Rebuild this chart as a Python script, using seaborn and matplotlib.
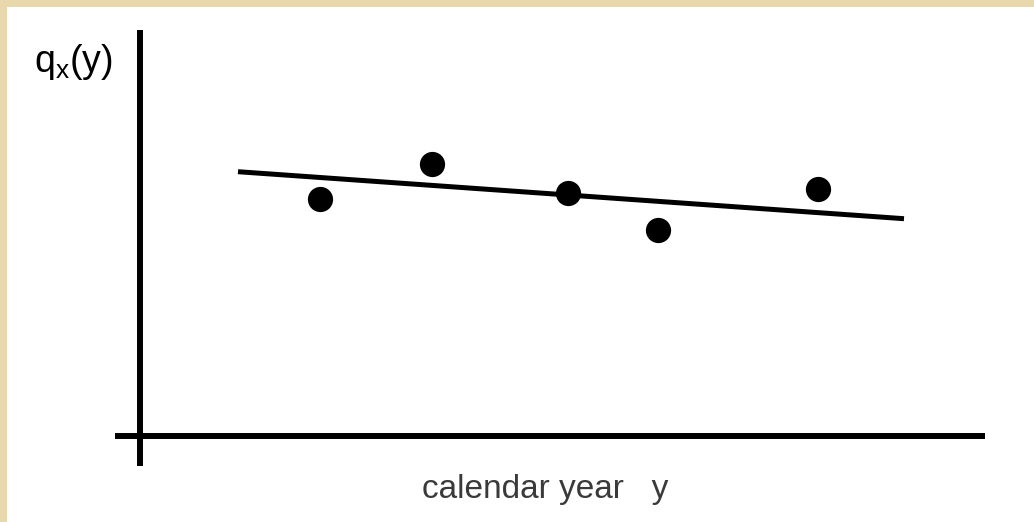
import numpy as np
import pandas as pd
import seaborn as sns
import matplotlib.pyplot as plt

sns.set_style('white')
plt.rcParams['font.family'] = ['Liberation Sans', 'DejaVu Sans']

# observed mortality rates q_x(y) by calendar year
years = [1959.0, 1964.6, 1971.4, 1975.9, 1983.9]
q_obs = [2.37, 2.72, 2.43, 2.06, 2.47]

# fitted trend line
trend_years = [1954.9, 1988.2]
trend_q = [2.64, 2.17]

obs = pd.DataFrame({'year': years, 'q': q_obs})
trend = pd.DataFrame({'year': trend_years, 'q': trend_q})


def mortality_trend():
    fig = plt.figure(figsize=(10.34, 5.22), dpi=100)
    fig.patch.set_facecolor('#e9d8ab')
    ax = fig.add_axes([7 / 1034, 0, 1027 / 1034, 515 / 522])
    ax.set_facecolor('white')

    sns.lineplot(x='year', y='q', data=trend, color='black', linewidth=3.6,
                 solid_capstyle='butt', ax=ax)
    sns.scatterplot(x='year', y='q', data=obs, color='black', s=330,
                    edgecolor='black', linewidth=0, ax=ax)

    ax.set_xlim(1943.35, 1994.7)
    ax.set_ylim(-0.863, 4.287)

    # axes drawn as crossing lines through the origin
    for side in ['top', 'right']:
        ax.spines[side].set_visible(False)
    ax.spines['left'].set_position(('data', 1950))
    ax.spines['left'].set_bounds(-0.303, 4.057)
    ax.spines['bottom'].set_position(('data', 0))
    ax.spines['bottom'].set_bounds(1948.75, 1992.25)
    for side in ['left', 'bottom']:
        ax.spines[side].set_linewidth(4.3)
        ax.spines[side].set_color('black')
        ax.spines[side].set_capstyle('butt')

    ax.set_xticks([])
    ax.set_yticks([])
    ax.set_xlabel('')
    ax.set_ylabel('')

    ax.text(0.071, 0.882, r'q$_\mathregular{x}$(y)', transform=fig.transFigure,
            fontsize=27, ha='center', va='center', color='black')
    ax.text(0.527, 0.062, 'calendar year   y', transform=fig.transFigure,
            fontsize=24, ha='center', va='center', color='#3a3a3a')

    fig.savefig('out.png', dpi=100, facecolor=fig.get_facecolor())


if __name__ == '__main__':
    mortality_trend()
